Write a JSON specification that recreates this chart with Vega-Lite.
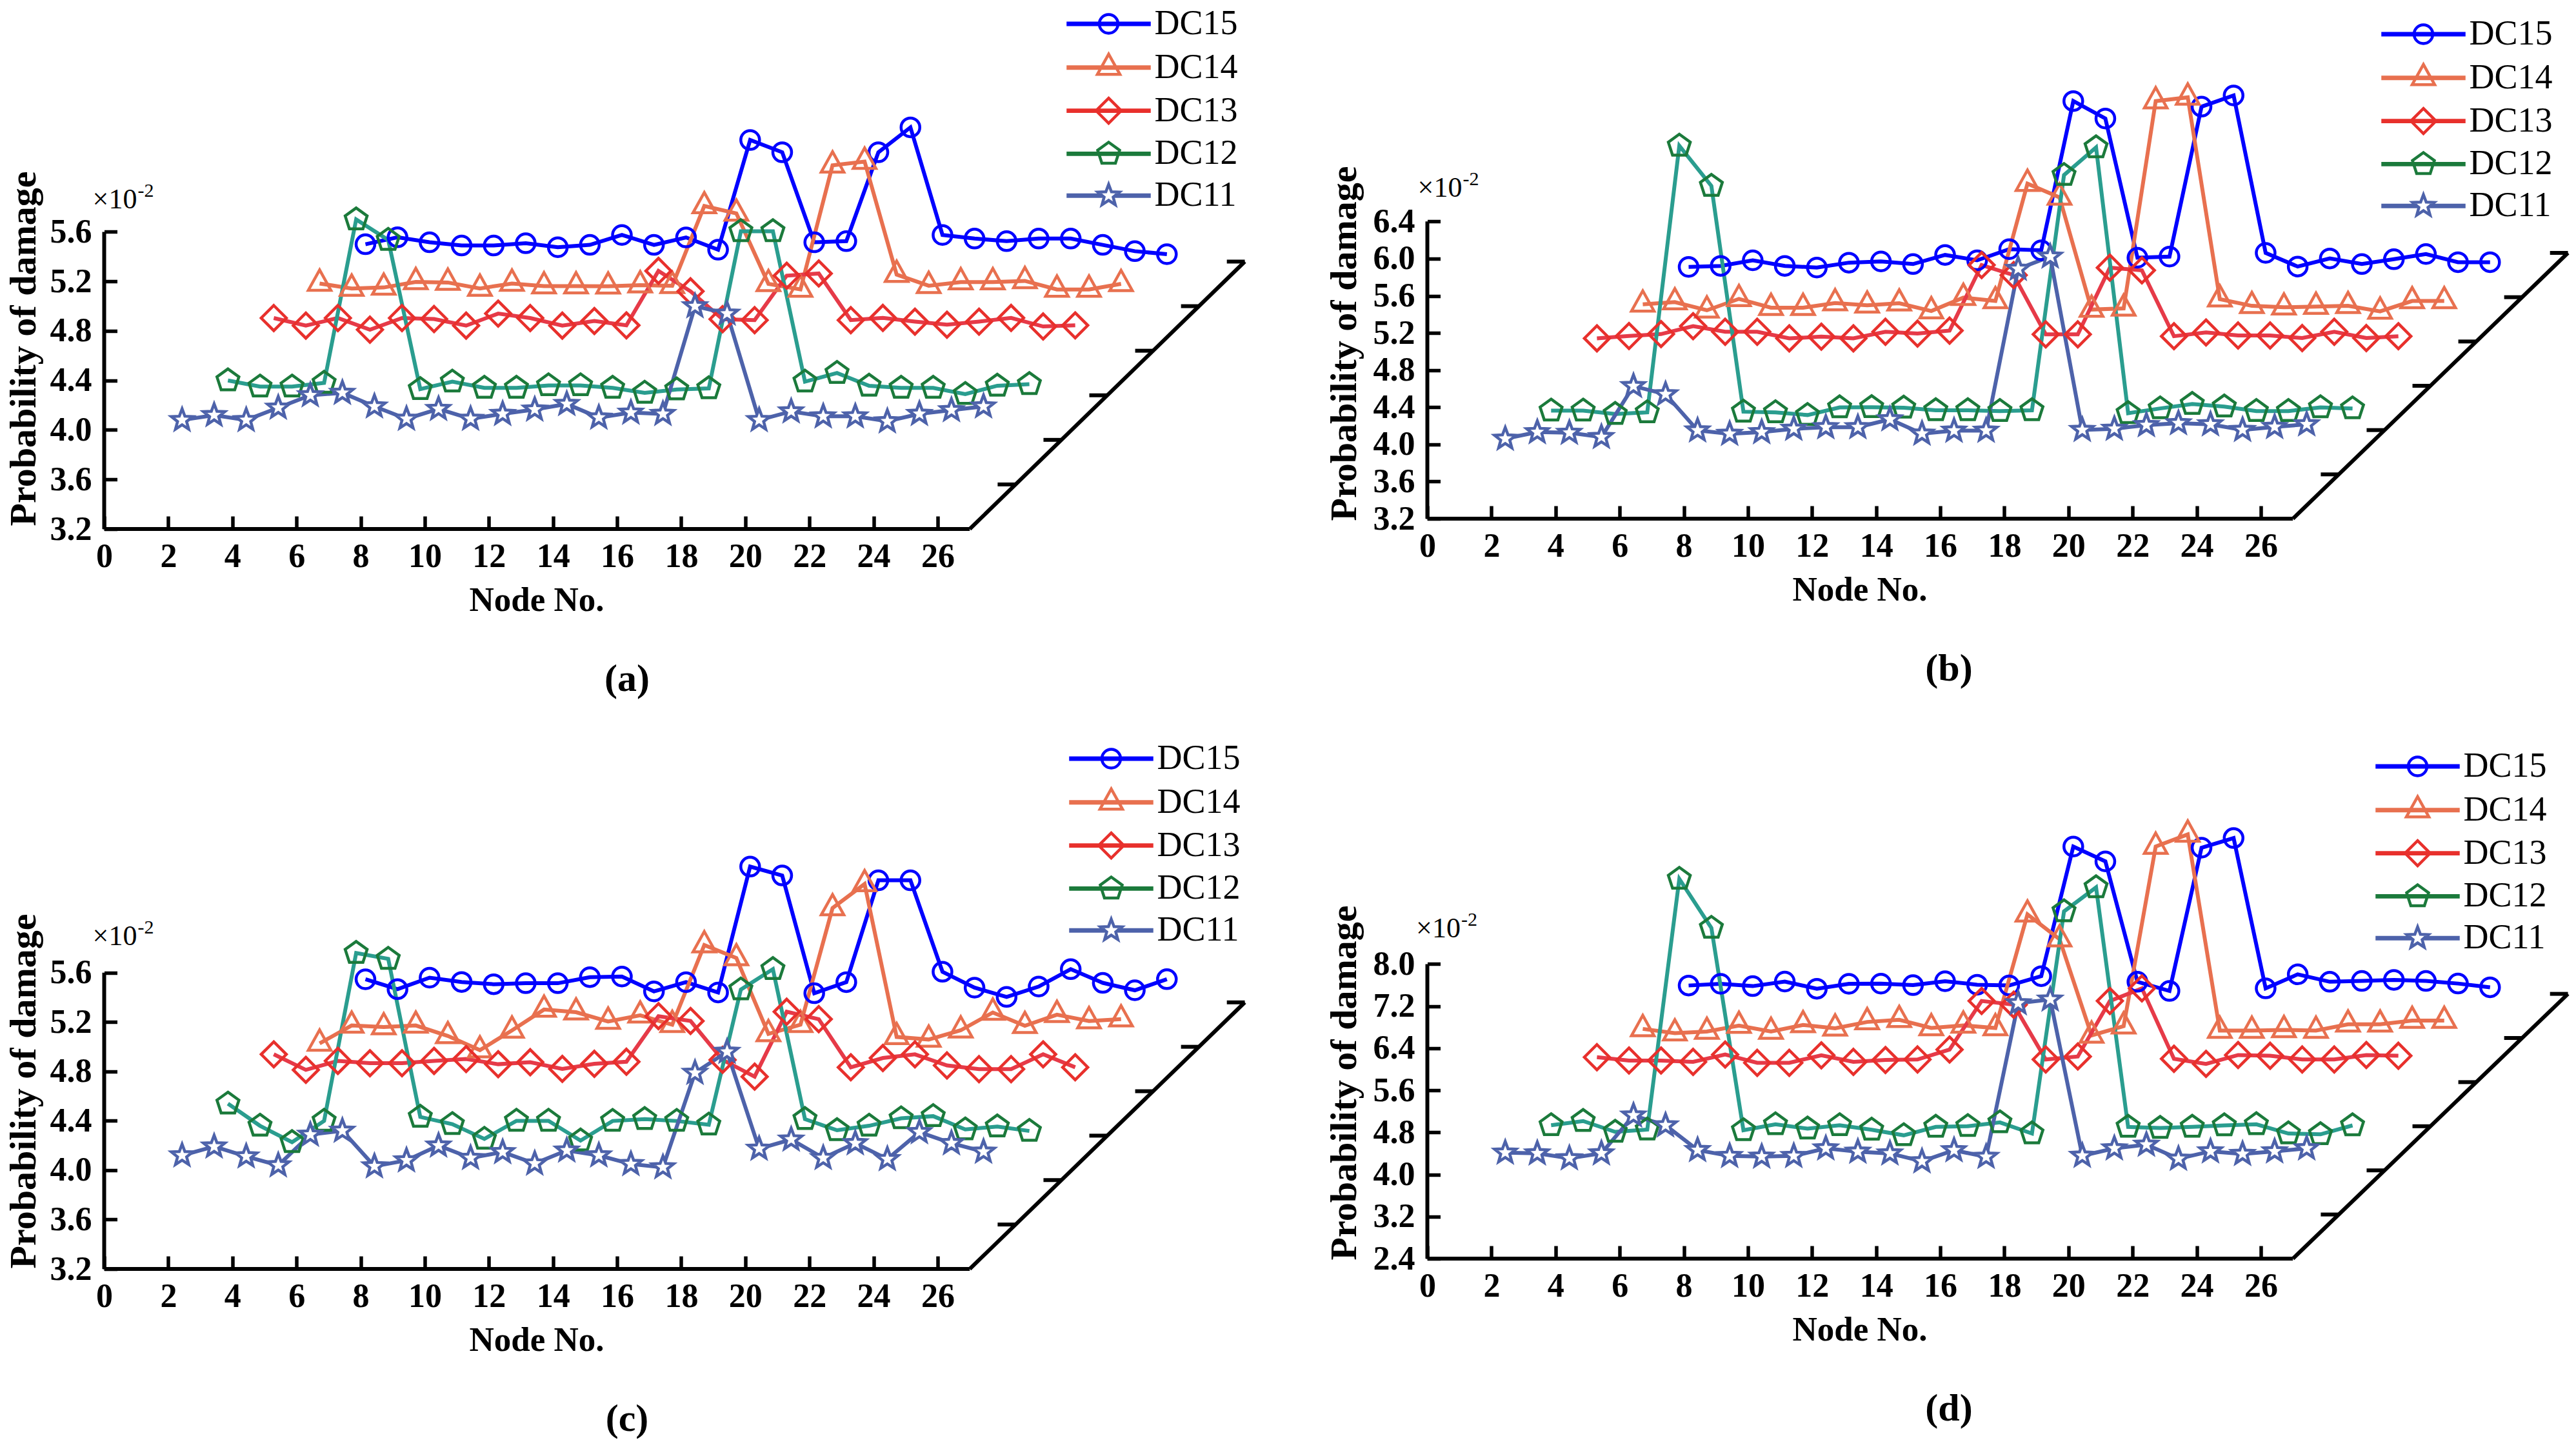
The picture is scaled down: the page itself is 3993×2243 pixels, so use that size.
{
  "$schema": "https://vega.github.io/schema/vega-lite/v6.json",
  "background": "white",
  "padding": {"left": 8.5, "top": 10, "right": 0, "bottom": 0},
  "datasets": {
    "a": [
      {"s":"DC15","x":8.15,"y":5.5},{"s":"DC15","x":9.15,"y":5.556},{"s":"DC15","x":10.15,"y":5.516},{"s":"DC15","x":11.15,"y":5.49},{"s":"DC15","x":12.15,"y":5.49},{"s":"DC15","x":13.15,"y":5.508},{"s":"DC15","x":14.15,"y":5.476},{"s":"DC15","x":15.15,"y":5.495},{"s":"DC15","x":16.15,"y":5.575},{"s":"DC15","x":17.15,"y":5.495},{"s":"DC15","x":18.15,"y":5.555},{"s":"DC15","x":19.15,"y":5.456},{"s":"DC15","x":20.15,"y":6.342},{"s":"DC15","x":21.15,"y":6.243},{"s":"DC15","x":22.15,"y":5.516},{"s":"DC15","x":23.15,"y":5.525},{"s":"DC15","x":24.15,"y":6.243},{"s":"DC15","x":25.15,"y":6.444},{"s":"DC15","x":26.15,"y":5.575},{"s":"DC15","x":27.15,"y":5.546},{"s":"DC15","x":28.15,"y":5.525},{"s":"DC15","x":29.15,"y":5.546},{"s":"DC15","x":30.15,"y":5.546},{"s":"DC15","x":31.15,"y":5.495},{"s":"DC15","x":32.15,"y":5.444},{"s":"DC15","x":33.15,"y":5.42},
      {"s":"DC14","x":6.72,"y":5.183},{"s":"DC14","x":7.72,"y":5.143},{"s":"DC14","x":8.72,"y":5.151},{"s":"DC14","x":9.72,"y":5.196},{"s":"DC14","x":10.72,"y":5.191},{"s":"DC14","x":11.72,"y":5.143},{"s":"DC14","x":12.72,"y":5.183},{"s":"DC14","x":13.72,"y":5.162},{"s":"DC14","x":14.72,"y":5.162},{"s":"DC14","x":15.72,"y":5.16},{"s":"DC14","x":16.72,"y":5.17},{"s":"DC14","x":17.72,"y":5.165},{"s":"DC14","x":18.72,"y":5.809},{"s":"DC14","x":19.72,"y":5.749},{"s":"DC14","x":20.72,"y":5.18},{"s":"DC14","x":21.72,"y":5.135},{"s":"DC14","x":22.72,"y":6.138},{"s":"DC14","x":23.72,"y":6.168},{"s":"DC14","x":24.72,"y":5.255},{"s":"DC14","x":25.72,"y":5.165},{"s":"DC14","x":26.72,"y":5.195},{"s":"DC14","x":27.72,"y":5.195},{"s":"DC14","x":28.72,"y":5.204},{"s":"DC14","x":29.72,"y":5.135},{"s":"DC14","x":30.72,"y":5.135},{"s":"DC14","x":31.72,"y":5.18},
      {"s":"DC13","x":5.29,"y":4.904},{"s":"DC13","x":6.29,"y":4.843},{"s":"DC13","x":7.29,"y":4.904},{"s":"DC13","x":8.29,"y":4.81},{"s":"DC13","x":9.29,"y":4.904},{"s":"DC13","x":10.29,"y":4.896},{"s":"DC13","x":11.29,"y":4.843},{"s":"DC13","x":12.29,"y":4.94},{"s":"DC13","x":13.29,"y":4.904},{"s":"DC13","x":14.29,"y":4.843},{"s":"DC13","x":15.29,"y":4.88},{"s":"DC13","x":16.29,"y":4.845},{"s":"DC13","x":17.29,"y":5.285},{"s":"DC13","x":18.29,"y":5.12},{"s":"DC13","x":19.29,"y":4.895},{"s":"DC13","x":20.29,"y":4.887},{"s":"DC13","x":21.29,"y":5.246},{"s":"DC13","x":22.29,"y":5.264},{"s":"DC13","x":23.29,"y":4.887},{"s":"DC13","x":24.29,"y":4.905},{"s":"DC13","x":25.29,"y":4.875},{"s":"DC13","x":26.29,"y":4.85},{"s":"DC13","x":27.29,"y":4.875},{"s":"DC13","x":28.29,"y":4.905},{"s":"DC13","x":29.29,"y":4.836},{"s":"DC13","x":30.29,"y":4.845},
      {"s":"DC12","x":3.86,"y":4.4},{"s":"DC12","x":4.86,"y":4.35},{"s":"DC12","x":5.86,"y":4.35},{"s":"DC12","x":6.86,"y":4.38},{"s":"DC12","x":7.86,"y":5.7},{"s":"DC12","x":8.86,"y":5.535},{"s":"DC12","x":9.86,"y":4.33},{"s":"DC12","x":10.86,"y":4.39},{"s":"DC12","x":11.86,"y":4.34},{"s":"DC12","x":12.86,"y":4.34},{"s":"DC12","x":13.86,"y":4.36},{"s":"DC12","x":14.86,"y":4.36},{"s":"DC12","x":15.86,"y":4.34},{"s":"DC12","x":16.86,"y":4.3},{"s":"DC12","x":17.86,"y":4.327},{"s":"DC12","x":18.86,"y":4.336},{"s":"DC12","x":19.86,"y":5.605},{"s":"DC12","x":20.86,"y":5.605},{"s":"DC12","x":21.86,"y":4.39},{"s":"DC12","x":22.86,"y":4.46},{"s":"DC12","x":23.86,"y":4.357},{"s":"DC12","x":24.86,"y":4.34},{"s":"DC12","x":25.86,"y":4.34},{"s":"DC12","x":26.86,"y":4.29},{"s":"DC12","x":27.86,"y":4.357},{"s":"DC12","x":28.86,"y":4.37},
      {"s":"DC11","x":2.43,"y":4.08},{"s":"DC11","x":3.43,"y":4.12},{"s":"DC11","x":4.43,"y":4.08},{"s":"DC11","x":5.43,"y":4.18},{"s":"DC11","x":6.43,"y":4.28},{"s":"DC11","x":7.43,"y":4.3},{"s":"DC11","x":8.43,"y":4.19},{"s":"DC11","x":9.43,"y":4.09},{"s":"DC11","x":10.43,"y":4.17},{"s":"DC11","x":11.43,"y":4.09},{"s":"DC11","x":12.43,"y":4.13},{"s":"DC11","x":13.43,"y":4.165},{"s":"DC11","x":14.43,"y":4.21},{"s":"DC11","x":15.43,"y":4.1},{"s":"DC11","x":16.43,"y":4.14},{"s":"DC11","x":17.43,"y":4.13},{"s":"DC11","x":18.43,"y":5.0},{"s":"DC11","x":19.43,"y":4.94},{"s":"DC11","x":20.43,"y":4.08},{"s":"DC11","x":21.43,"y":4.15},{"s":"DC11","x":22.43,"y":4.11},{"s":"DC11","x":23.43,"y":4.11},{"s":"DC11","x":24.43,"y":4.07},{"s":"DC11","x":25.43,"y":4.13},{"s":"DC11","x":26.43,"y":4.16},{"s":"DC11","x":27.43,"y":4.19}
    ],
    "b": [
      {"s":"DC15","x":8.15,"y":5.911},{"s":"DC15","x":9.15,"y":5.922},{"s":"DC15","x":10.15,"y":5.982},{"s":"DC15","x":11.15,"y":5.922},{"s":"DC15","x":12.15,"y":5.904},{"s":"DC15","x":13.15,"y":5.957},{"s":"DC15","x":14.15,"y":5.97},{"s":"DC15","x":15.15,"y":5.942},{"s":"DC15","x":16.15,"y":6.04},{"s":"DC15","x":17.15,"y":5.982},{"s":"DC15","x":18.15,"y":6.102},{"s":"DC15","x":19.15,"y":6.09},{"s":"DC15","x":20.15,"y":7.697},{"s":"DC15","x":21.15,"y":7.509},{"s":"DC15","x":22.15,"y":6.01},{"s":"DC15","x":23.15,"y":6.022},{"s":"DC15","x":24.15,"y":7.637},{"s":"DC15","x":25.15,"y":7.757},{"s":"DC15","x":26.15,"y":6.062},{"s":"DC15","x":27.15,"y":5.915},{"s":"DC15","x":28.15,"y":6.002},{"s":"DC15","x":29.15,"y":5.942},{"s":"DC15","x":30.15,"y":5.994},{"s":"DC15","x":31.15,"y":6.05},{"s":"DC15","x":32.15,"y":5.962},{"s":"DC15","x":33.15,"y":5.962},
      {"s":"DC14","x":6.72,"y":5.508},{"s":"DC14","x":7.72,"y":5.532},{"s":"DC14","x":8.72,"y":5.444},{"s":"DC14","x":9.72,"y":5.567},{"s":"DC14","x":10.72,"y":5.472},{"s":"DC14","x":11.72,"y":5.472},{"s":"DC14","x":12.72,"y":5.522},{"s":"DC14","x":13.72,"y":5.497},{"s":"DC14","x":14.72,"y":5.52},{"s":"DC14","x":15.72,"y":5.436},{"s":"DC14","x":16.72,"y":5.58},{"s":"DC14","x":17.72,"y":5.544},{"s":"DC14","x":18.72,"y":6.808},{"s":"DC14","x":19.72,"y":6.66},{"s":"DC14","x":20.72,"y":5.452},{"s":"DC14","x":21.72,"y":5.464},{"s":"DC14","x":22.72,"y":7.697},{"s":"DC14","x":23.72,"y":7.737},{"s":"DC14","x":24.72,"y":5.564},{"s":"DC14","x":25.72,"y":5.492},{"s":"DC14","x":26.72,"y":5.476},{"s":"DC14","x":27.72,"y":5.484},{"s":"DC14","x":28.72,"y":5.492},{"s":"DC14","x":29.72,"y":5.432},{"s":"DC14","x":30.72,"y":5.544},{"s":"DC14","x":31.72,"y":5.544},
      {"s":"DC13","x":5.29,"y":5.142},{"s":"DC13","x":6.29,"y":5.167},{"s":"DC13","x":7.29,"y":5.188},{"s":"DC13","x":8.29,"y":5.273},{"s":"DC13","x":9.29,"y":5.213},{"s":"DC13","x":10.29,"y":5.213},{"s":"DC13","x":11.29,"y":5.142},{"s":"DC13","x":12.29,"y":5.16},{"s":"DC13","x":13.29,"y":5.142},{"s":"DC13","x":14.29,"y":5.213},{"s":"DC13","x":15.29,"y":5.193},{"s":"DC13","x":16.29,"y":5.225},{"s":"DC13","x":17.29,"y":5.931},{"s":"DC13","x":18.29,"y":5.823},{"s":"DC13","x":19.29,"y":5.185},{"s":"DC13","x":20.29,"y":5.185},{"s":"DC13","x":21.29,"y":5.903},{"s":"DC13","x":22.29,"y":5.874},{"s":"DC13","x":23.29,"y":5.165},{"s":"DC13","x":24.29,"y":5.205},{"s":"DC13","x":25.29,"y":5.173},{"s":"DC13","x":26.29,"y":5.173},{"s":"DC13","x":27.29,"y":5.145},{"s":"DC13","x":28.29,"y":5.213},{"s":"DC13","x":29.29,"y":5.145},{"s":"DC13","x":30.29,"y":5.165},
      {"s":"DC12","x":3.86,"y":4.363},{"s":"DC12","x":4.86,"y":4.363},{"s":"DC12","x":5.86,"y":4.327},{"s":"DC12","x":6.86,"y":4.345},{"s":"DC12","x":7.86,"y":7.216},{"s":"DC12","x":8.86,"y":6.783},{"s":"DC12","x":9.86,"y":4.352},{"s":"DC12","x":10.86,"y":4.345},{"s":"DC12","x":11.86,"y":4.316},{"s":"DC12","x":12.86,"y":4.398},{"s":"DC12","x":13.86,"y":4.4},{"s":"DC12","x":14.86,"y":4.395},{"s":"DC12","x":15.86,"y":4.367},{"s":"DC12","x":16.86,"y":4.367},{"s":"DC12","x":17.86,"y":4.359},{"s":"DC12","x":18.86,"y":4.367},{"s":"DC12","x":19.86,"y":6.9},{"s":"DC12","x":20.86,"y":7.198},{"s":"DC12","x":21.86,"y":4.336},{"s":"DC12","x":22.86,"y":4.387},{"s":"DC12","x":23.86,"y":4.435},{"s":"DC12","x":24.86,"y":4.407},{"s":"DC12","x":25.86,"y":4.359},{"s":"DC12","x":26.86,"y":4.359},{"s":"DC12","x":27.86,"y":4.399},{"s":"DC12","x":28.86,"y":4.387},
      {"s":"DC11","x":2.43,"y":4.061},{"s":"DC11","x":3.43,"y":4.132},{"s":"DC11","x":4.43,"y":4.125},{"s":"DC11","x":5.43,"y":4.079},{"s":"DC11","x":6.43,"y":4.628},{"s":"DC11","x":7.43,"y":4.54},{"s":"DC11","x":8.43,"y":4.15},{"s":"DC11","x":9.43,"y":4.114},{"s":"DC11","x":10.43,"y":4.132},{"s":"DC11","x":11.43,"y":4.168},{"s":"DC11","x":12.43,"y":4.185},{"s":"DC11","x":13.43,"y":4.185},{"s":"DC11","x":14.43,"y":4.27},{"s":"DC11","x":15.43,"y":4.116},{"s":"DC11","x":16.43,"y":4.148},{"s":"DC11","x":17.43,"y":4.148},{"s":"DC11","x":18.43,"y":5.89},{"s":"DC11","x":19.43,"y":6.022},{"s":"DC11","x":20.43,"y":4.156},{"s":"DC11","x":21.43,"y":4.168},{"s":"DC11","x":22.43,"y":4.208},{"s":"DC11","x":23.43,"y":4.228},{"s":"DC11","x":24.43,"y":4.216},{"s":"DC11","x":25.43,"y":4.156},{"s":"DC11","x":26.43,"y":4.188},{"s":"DC11","x":27.43,"y":4.216}
    ],
    "c": [
      {"s":"DC15","x":8.15,"y":5.547},{"s":"DC15","x":9.15,"y":5.467},{"s":"DC15","x":10.15,"y":5.56},{"s":"DC15","x":11.15,"y":5.525},{"s":"DC15","x":12.15,"y":5.507},{"s":"DC15","x":13.15,"y":5.515},{"s":"DC15","x":14.15,"y":5.515},{"s":"DC15","x":15.15,"y":5.564},{"s":"DC15","x":16.15,"y":5.569},{"s":"DC15","x":17.15,"y":5.449},{"s":"DC15","x":18.15,"y":5.524},{"s":"DC15","x":19.15,"y":5.44},{"s":"DC15","x":20.15,"y":6.46},{"s":"DC15","x":21.15,"y":6.388},{"s":"DC15","x":22.15,"y":5.434},{"s":"DC15","x":23.15,"y":5.524},{"s":"DC15","x":24.15,"y":6.349},{"s":"DC15","x":25.15,"y":6.349},{"s":"DC15","x":26.15,"y":5.608},{"s":"DC15","x":27.15,"y":5.479},{"s":"DC15","x":28.15,"y":5.404},{"s":"DC15","x":29.15,"y":5.488},{"s":"DC15","x":30.15,"y":5.629},{"s":"DC15","x":31.15,"y":5.518},{"s":"DC15","x":32.15,"y":5.458},{"s":"DC15","x":33.15,"y":5.548},
      {"s":"DC14","x":6.72,"y":5.027},{"s":"DC14","x":7.72,"y":5.173},{"s":"DC14","x":8.72,"y":5.16},{"s":"DC14","x":9.72,"y":5.173},{"s":"DC14","x":10.72,"y":5.088},{"s":"DC14","x":11.72,"y":4.973},{"s":"DC14","x":12.72,"y":5.133},{"s":"DC14","x":13.72,"y":5.302},{"s":"DC14","x":14.72,"y":5.28},{"s":"DC14","x":15.72,"y":5.205},{"s":"DC14","x":16.72,"y":5.255},{"s":"DC14","x":17.72,"y":5.179},{"s":"DC14","x":18.72,"y":5.824},{"s":"DC14","x":19.72,"y":5.719},{"s":"DC14","x":20.72,"y":5.104},{"s":"DC14","x":21.72,"y":5.179},{"s":"DC14","x":22.72,"y":6.124},{"s":"DC14","x":23.72,"y":6.319},{"s":"DC14","x":24.72,"y":5.08},{"s":"DC14","x":25.72,"y":5.059},{"s":"DC14","x":26.72,"y":5.134},{"s":"DC14","x":27.72,"y":5.278},{"s":"DC14","x":28.72,"y":5.17},{"s":"DC14","x":29.72,"y":5.26},{"s":"DC14","x":30.72,"y":5.209},{"s":"DC14","x":31.72,"y":5.224},
      {"s":"DC13","x":5.29,"y":4.939},{"s":"DC13","x":6.29,"y":4.813},{"s":"DC13","x":7.29,"y":4.886},{"s":"DC13","x":8.29,"y":4.867},{"s":"DC13","x":9.29,"y":4.867},{"s":"DC13","x":10.29,"y":4.886},{"s":"DC13","x":11.29,"y":4.901},{"s":"DC13","x":12.29,"y":4.859},{"s":"DC13","x":13.29,"y":4.875},{"s":"DC13","x":14.29,"y":4.821},{"s":"DC13","x":15.29,"y":4.862},{"s":"DC13","x":16.29,"y":4.879},{"s":"DC13","x":17.29,"y":5.248},{"s":"DC13","x":18.29,"y":5.209},{"s":"DC13","x":19.29,"y":4.894},{"s":"DC13","x":20.29,"y":4.758},{"s":"DC13","x":21.29,"y":5.284},{"s":"DC13","x":22.29,"y":5.224},{"s":"DC13","x":23.29,"y":4.834},{"s":"DC13","x":24.29,"y":4.909},{"s":"DC13","x":25.29,"y":4.939},{"s":"DC13","x":26.29,"y":4.849},{"s":"DC13","x":27.29,"y":4.819},{"s":"DC13","x":28.29,"y":4.819},{"s":"DC13","x":29.29,"y":4.939},{"s":"DC13","x":30.29,"y":4.834},
      {"s":"DC12","x":3.86,"y":4.539},{"s":"DC12","x":4.86,"y":4.36},{"s":"DC12","x":5.86,"y":4.227},{"s":"DC12","x":6.86,"y":4.4},{"s":"DC12","x":7.86,"y":5.76},{"s":"DC12","x":8.86,"y":5.712},{"s":"DC12","x":9.86,"y":4.432},{"s":"DC12","x":10.86,"y":4.373},{"s":"DC12","x":11.86,"y":4.254},{"s":"DC12","x":12.86,"y":4.4},{"s":"DC12","x":13.86,"y":4.4},{"s":"DC12","x":14.86,"y":4.24},{"s":"DC12","x":15.86,"y":4.399},{"s":"DC12","x":16.86,"y":4.414},{"s":"DC12","x":17.86,"y":4.399},{"s":"DC12","x":18.86,"y":4.369},{"s":"DC12","x":19.86,"y":5.464},{"s":"DC12","x":20.86,"y":5.629},{"s":"DC12","x":21.86,"y":4.414},{"s":"DC12","x":22.86,"y":4.324},{"s":"DC12","x":23.86,"y":4.36},{"s":"DC12","x":24.86,"y":4.42},{"s":"DC12","x":25.86,"y":4.438},{"s":"DC12","x":26.86,"y":4.33},{"s":"DC12","x":27.86,"y":4.354},{"s":"DC12","x":28.86,"y":4.318},
      {"s":"DC11","x":2.43,"y":4.12},{"s":"DC11","x":3.43,"y":4.192},{"s":"DC11","x":4.43,"y":4.112},{"s":"DC11","x":5.43,"y":4.04},{"s":"DC11","x":6.43,"y":4.288},{"s":"DC11","x":7.43,"y":4.32},{"s":"DC11","x":8.43,"y":4.032},{"s":"DC11","x":9.43,"y":4.08},{"s":"DC11","x":10.43,"y":4.2},{"s":"DC11","x":11.43,"y":4.099},{"s":"DC11","x":12.43,"y":4.147},{"s":"DC11","x":13.43,"y":4.054},{"s":"DC11","x":14.43,"y":4.16},{"s":"DC11","x":15.43,"y":4.12},{"s":"DC11","x":16.43,"y":4.05},{"s":"DC11","x":17.43,"y":4.024},{"s":"DC11","x":18.43,"y":4.789},{"s":"DC11","x":19.43,"y":4.96},{"s":"DC11","x":20.43,"y":4.174},{"s":"DC11","x":21.43,"y":4.249},{"s":"DC11","x":22.43,"y":4.099},{"s":"DC11","x":23.43,"y":4.219},{"s":"DC11","x":24.43,"y":4.09},{"s":"DC11","x":25.43,"y":4.309},{"s":"DC11","x":26.43,"y":4.219},{"s":"DC11","x":27.43,"y":4.15}
    ],
    "d": [
      {"s":"DC15","x":8.15,"y":7.593},{"s":"DC15","x":9.15,"y":7.625},{"s":"DC15","x":10.15,"y":7.581},{"s":"DC15","x":11.15,"y":7.668},{"s":"DC15","x":12.15,"y":7.531},{"s":"DC15","x":13.15,"y":7.625},{"s":"DC15","x":14.15,"y":7.628},{"s":"DC15","x":15.15,"y":7.6},{"s":"DC15","x":16.15,"y":7.674},{"s":"DC15","x":17.15,"y":7.608},{"s":"DC15","x":18.15,"y":7.594},{"s":"DC15","x":19.15,"y":7.77},{"s":"DC15","x":20.15,"y":10.235},{"s":"DC15","x":21.15,"y":9.953},{"s":"DC15","x":22.15,"y":7.664},{"s":"DC15","x":23.15,"y":7.489},{"s":"DC15","x":24.15,"y":10.213},{"s":"DC15","x":25.15,"y":10.396},{"s":"DC15","x":26.15,"y":7.538},{"s":"DC15","x":27.15,"y":7.805},{"s":"DC15","x":28.15,"y":7.664},{"s":"DC15","x":29.15,"y":7.679},{"s":"DC15","x":30.15,"y":7.7},{"s":"DC15","x":31.15,"y":7.679},{"s":"DC15","x":32.15,"y":7.63},{"s":"DC15","x":33.15,"y":7.559},
      {"s":"DC14","x":6.72,"y":6.768},{"s":"DC14","x":7.72,"y":6.686},{"s":"DC14","x":8.72,"y":6.717},{"s":"DC14","x":9.72,"y":6.83},{"s":"DC14","x":10.72,"y":6.717},{"s":"DC14","x":11.72,"y":6.843},{"s":"DC14","x":12.72,"y":6.78},{"s":"DC14","x":13.72,"y":6.9},{"s":"DC14","x":14.72,"y":6.94},{"s":"DC14","x":15.72,"y":6.785},{"s":"DC14","x":16.72,"y":6.834},{"s":"DC14","x":17.72,"y":6.785},{"s":"DC14","x":18.72,"y":8.946},{"s":"DC14","x":19.72,"y":8.474},{"s":"DC14","x":20.72,"y":6.644},{"s":"DC14","x":21.72,"y":6.82},{"s":"DC14","x":22.72,"y":10.235},{"s":"DC14","x":23.72,"y":10.466},{"s":"DC14","x":24.72,"y":6.736},{"s":"DC14","x":25.72,"y":6.736},{"s":"DC14","x":26.72,"y":6.749},{"s":"DC14","x":27.72,"y":6.736},{"s":"DC14","x":28.72,"y":6.855},{"s":"DC14","x":29.72,"y":6.855},{"s":"DC14","x":30.72,"y":6.925},{"s":"DC14","x":31.72,"y":6.925},
      {"s":"DC13","x":5.29,"y":6.23},{"s":"DC13","x":6.29,"y":6.167},{"s":"DC13","x":7.29,"y":6.167},{"s":"DC13","x":8.29,"y":6.141},{"s":"DC13","x":9.29,"y":6.28},{"s":"DC13","x":10.29,"y":6.123},{"s":"DC13","x":11.29,"y":6.123},{"s":"DC13","x":12.29,"y":6.266},{"s":"DC13","x":13.29,"y":6.141},{"s":"DC13","x":14.29,"y":6.177},{"s":"DC13","x":15.29,"y":6.187},{"s":"DC13","x":16.29,"y":6.375},{"s":"DC13","x":17.29,"y":7.299},{"s":"DC13","x":18.29,"y":7.228},{"s":"DC13","x":19.29,"y":6.187},{"s":"DC13","x":20.29,"y":6.243},{"s":"DC13","x":21.29,"y":7.299},{"s":"DC13","x":22.29,"y":7.538},{"s":"DC13","x":23.29,"y":6.2},{"s":"DC13","x":24.29,"y":6.102},{"s":"DC13","x":25.29,"y":6.271},{"s":"DC13","x":26.29,"y":6.257},{"s":"DC13","x":27.29,"y":6.187},{"s":"DC13","x":28.29,"y":6.187},{"s":"DC13","x":29.29,"y":6.271},{"s":"DC13","x":30.29,"y":6.257},
      {"s":"DC12","x":3.86,"y":4.935},{"s":"DC12","x":4.86,"y":5.016},{"s":"DC12","x":5.86,"y":4.81},{"s":"DC12","x":6.86,"y":4.853},{"s":"DC12","x":7.86,"y":9.62},{"s":"DC12","x":8.86,"y":8.688},{"s":"DC12","x":9.86,"y":4.84},{"s":"DC12","x":10.86,"y":4.953},{"s":"DC12","x":11.86,"y":4.872},{"s":"DC12","x":12.86,"y":4.935},{"s":"DC12","x":13.86,"y":4.851},{"s":"DC12","x":14.86,"y":4.745},{"s":"DC12","x":15.86,"y":4.905},{"s":"DC12","x":16.86,"y":4.919},{"s":"DC12","x":17.86,"y":4.99},{"s":"DC12","x":18.86,"y":4.779},{"s":"DC12","x":19.86,"y":9.002},{"s":"DC12","x":20.86,"y":9.459},{"s":"DC12","x":21.86,"y":4.905},{"s":"DC12","x":22.86,"y":4.884},{"s":"DC12","x":23.86,"y":4.905},{"s":"DC12","x":24.86,"y":4.933},{"s":"DC12","x":25.86,"y":4.954},{"s":"DC12","x":26.86,"y":4.779},{"s":"DC12","x":27.86,"y":4.764},{"s":"DC12","x":28.86,"y":4.933},
      {"s":"DC11","x":2.43,"y":4.415},{"s":"DC11","x":3.43,"y":4.402},{"s":"DC11","x":4.43,"y":4.308},{"s":"DC11","x":5.43,"y":4.402},{"s":"DC11","x":6.43,"y":5.122},{"s":"DC11","x":7.43,"y":4.935},{"s":"DC11","x":8.43,"y":4.465},{"s":"DC11","x":9.43,"y":4.352},{"s":"DC11","x":10.43,"y":4.34},{"s":"DC11","x":11.43,"y":4.352},{"s":"DC11","x":12.43,"y":4.497},{"s":"DC11","x":13.43,"y":4.434},{"s":"DC11","x":14.43,"y":4.4},{"s":"DC11","x":15.43,"y":4.25},{"s":"DC11","x":16.43,"y":4.461},{"s":"DC11","x":17.43,"y":4.335},{"s":"DC11","x":18.43,"y":7.256},{"s":"DC11","x":19.43,"y":7.327},{"s":"DC11","x":20.43,"y":4.356},{"s":"DC11","x":21.43,"y":4.497},{"s":"DC11","x":22.43,"y":4.567},{"s":"DC11","x":23.43,"y":4.299},{"s":"DC11","x":24.43,"y":4.44},{"s":"DC11","x":25.43,"y":4.391},{"s":"DC11","x":26.43,"y":4.44},{"s":"DC11","x":27.43,"y":4.497}
    ],
    "ax_a": [
      {"x":0,"y":3.2,"x2":27,"y2":3.2},{"x":0,"y":3.2,"x2":0,"y2":5.6},{"x":27,"y":3.2,"x2":35.58,"y2":5.36},
      {"x":27.87,"y":3.56,"x2":28.43,"y2":3.56},{"x":29.3,"y":3.92,"x2":29.86,"y2":3.92},{"x":30.73,"y":4.28,"x2":31.29,"y2":4.28},{"x":32.16,"y":4.64,"x2":32.72,"y2":4.64},{"x":33.59,"y":5.0,"x2":34.15,"y2":5.0},{"x":35.02,"y":5.36,"x2":35.58,"y2":5.36}
    ],
    "ax_b": [
      {"x":0,"y":3.2,"x2":27,"y2":3.2},{"x":0,"y":3.2,"x2":0,"y2":6.4},{"x":27,"y":3.2,"x2":35.58,"y2":6.062},
      {"x":27.87,"y":3.677,"x2":28.43,"y2":3.677},{"x":29.3,"y":4.154,"x2":29.86,"y2":4.154},{"x":30.73,"y":4.631,"x2":31.29,"y2":4.631},{"x":32.16,"y":5.108,"x2":32.72,"y2":5.108},{"x":33.59,"y":5.585,"x2":34.15,"y2":5.585},{"x":35.02,"y":6.062,"x2":35.58,"y2":6.062}
    ],
    "ax_c": [
      {"x":0,"y":3.2,"x2":27,"y2":3.2},{"x":0,"y":3.2,"x2":0,"y2":5.6},{"x":27,"y":3.2,"x2":35.58,"y2":5.36},
      {"x":27.87,"y":3.56,"x2":28.43,"y2":3.56},{"x":29.3,"y":3.92,"x2":29.86,"y2":3.92},{"x":30.73,"y":4.28,"x2":31.29,"y2":4.28},{"x":32.16,"y":4.64,"x2":32.72,"y2":4.64},{"x":33.59,"y":5.0,"x2":34.15,"y2":5.0},{"x":35.02,"y":5.36,"x2":35.58,"y2":5.36}
    ],
    "ax_d": [
      {"x":0,"y":2.4,"x2":27,"y2":2.4},{"x":0,"y":2.4,"x2":0,"y2":8.0},{"x":27,"y":2.4,"x2":35.58,"y2":7.434},
      {"x":27.87,"y":3.239,"x2":28.43,"y2":3.239},{"x":29.3,"y":4.078,"x2":29.86,"y2":4.078},{"x":30.73,"y":4.917,"x2":31.29,"y2":4.917},{"x":32.16,"y":5.756,"x2":32.72,"y2":5.756},{"x":33.59,"y":6.595,"x2":34.15,"y2":6.595},{"x":35.02,"y":7.434,"x2":35.58,"y2":7.434}
    ],
    "series": [{"s":"DC15"},{"s":"DC14"},{"s":"DC13"},{"s":"DC12"},{"s":"DC11"}]
  },
  "columns": 2,
  "spacing": {"row": 66, "column": 120},
  "concat": [
    {
      "width": 1774, "height": 806,
      "title": {"text": "(a)", "orient": "bottom", "anchor": "middle", "frame": "bounds", "offset": 67},
      "layer": [
        {"data": {"name": "ax_a"}, "mark": {"type": "rule", "color": "black", "strokeWidth": 6},
         "encoding": {"x": {"field": "x", "type": "quantitative", "title": "Node No.", "scale": {"domain": [0, 35.7], "nice": false, "zero": false}},
                      "y": {"field": "y", "type": "quantitative", "title": "Probability of damage", "scale": {"domain": [3.2, 7.4], "nice": false, "zero": false}},
                      "x2": {"field": "x2"}, "y2": {"field": "y2"}}},
        {"data": {"values": [{}]}, "mark": {"type": "text", "text": "×10", "align": "left", "baseline": "middle", "font": "Liberation Serif", "fontSize": 44},
         "encoding": {"x": {"datum": -0.36, "type": "quantitative", "title": "Node No."}, "y": {"datum": 5.86, "type": "quantitative", "title": "Probability of damage"}}},
        {"data": {"values": [{}]}, "mark": {"type": "text", "text": "-2", "align": "left", "baseline": "middle", "font": "Liberation Serif", "fontSize": 30, "dx": 70, "dy": -14},
         "encoding": {"x": {"datum": -0.36, "type": "quantitative", "title": "Node No."}, "y": {"datum": 5.86, "type": "quantitative", "title": "Probability of damage"}}},
        {"data": {"name": "a"}, "mark": {"type": "line", "strokeWidth": 6},
         "encoding": {"x": {"field": "x", "type": "quantitative", "title": "Node No.", "scale": {"domain": [0, 35.7], "nice": false, "zero": false},
                            "axis": {"values": [0,2,4,6,8,10,12,14,16,18,20,22,24,26], "format": "d", "titleX": 670, "titleY": 110, "titleAlign": "center", "titleBaseline": "middle", "labelPadding": 37}},
                      "y": {"field": "y", "type": "quantitative", "title": "Probability of damage", "scale": {"domain": [3.2, 7.4], "nice": false, "zero": false},
                            "axis": {"values": [3.2,3.6,4.0,4.4,4.8,5.2,5.6], "format": ".1f", "titleX": -124, "titleY": 526, "titleAlign": "center", "titleBaseline": "middle", "titleFontSize": 58, "labelPadding": 39.5}},
                      "color": {"field": "s", "type": "nominal", "scale": {"domain": ["DC15","DC14","DC13","DC12","DC11"], "range": ["#0000FF","#E8704F","#E63A48","#2A9D8F","#4D62AA"]}, "legend": null}}},
        {"data": {"name": "a"}, "mark": {"type": "point", "filled": true, "opacity": 1, "size": 1600, "strokeWidth": 4.5},
         "encoding": {"x": {"field": "x", "type": "quantitative", "title": "Node No."}, "y": {"field": "y", "type": "quantitative", "title": "Probability of damage"},
                      "shape": {"field": "s", "type": "nominal", "scale": {"domain": ["DC15","DC14","DC13","DC12","DC11"], "range": ["M0.725,0A0.725,0.725,0,1,1,-0.725,0A0.725,0.725,0,1,1,0.725,0Z","M0,-1.05L0.875,0.525L-0.875,0.525Z","M0,-0.975L0.975,0L0,0.975L-0.975,0Z","M0,-0.895L0.851,-0.277L0.526,0.724L-0.526,0.724L-0.851,-0.277Z","M0,-0.875L0.216,-0.297L0.832,-0.27L0.35,0.114L0.514,0.708L0,0.368L-0.514,0.708L-0.35,0.114L-0.832,-0.27L-0.216,-0.297Z"]}, "legend": null},
                      "stroke": {"field": "s", "type": "nominal", "scale": {"domain": ["DC15","DC14","DC13","DC12","DC11"], "range": ["#0000FF","#E8704F","#E8302C","#1B7A3B","#4D62AA"]}, "legend": null},
                      "fill": {"field": "s", "type": "nominal", "scale": {"domain": ["DC15","DC14","DC13","DC12","DC11"], "range": ["transparent","transparent","transparent","transparent","white"]}, "legend": null}}},
        {"data": {"name": "series"}, "mark": {"type": "point", "filled": true, "opacity": 0, "size": 1600, "strokeWidth": 4.5},
         "encoding": {
           "shape": {"field": "s", "type": "nominal", "scale": {"domain": ["DC15","DC14","DC13","DC12","DC11"], "range": ["M-3.15,-0.06H3.15V0.06H-3.15ZM0.725,0A0.725,0.725,0,1,1,-0.725,0A0.725,0.725,0,1,1,0.725,0Z","M-3.15,-0.06H3.15V0.06H-3.15ZM0,-1.05L0.875,0.525L-0.875,0.525Z","M-3.15,-0.06H3.15V0.06H-3.15ZM0,-0.975L0.975,0L0,0.975L-0.975,0Z","M-3.15,-0.06H3.15V0.06H-3.15ZM0,-0.895L0.851,-0.277L0.526,0.724L-0.526,0.724L-0.851,-0.277Z","M-3.15,-0.06H-0.6V0.06H-3.15ZM0.6,-0.06H3.15V0.06H0.6ZM0,-0.875L0.216,-0.297L0.832,-0.27L0.35,0.114L0.514,0.708L0,0.368L-0.514,0.708L-0.35,0.114L-0.832,-0.27L-0.216,-0.297Z"]},
                     "legend": {"orient": "none", "legendX": 1530, "legendY": -4, "title": null, "padding": 0, "rowPadding": 10.8, "labelOffset": 44, "symbolSize": 1600, "symbolStrokeWidth": 4.5, "symbolOpacity": 1, "labelFont": "Liberation Serif", "labelFontSize": 54, "labelColor": "black"}},
           "stroke": {"field": "s", "type": "nominal", "scale": {"domain": ["DC15","DC14","DC13","DC12","DC11"], "range": ["#0000FF","#E8704F","#E8302C","#1B7A3B","#4D62AA"]},
                     "legend": {"orient": "none", "legendX": 1530, "legendY": -4, "title": null, "padding": 0, "rowPadding": 10.8, "labelOffset": 44, "symbolSize": 1600, "symbolStrokeWidth": 4.5, "symbolOpacity": 1, "labelFont": "Liberation Serif", "labelFontSize": 54, "labelColor": "black"}},
           "fill": {"field": "s", "type": "nominal", "scale": {"domain": ["DC15","DC14","DC13","DC12","DC11"], "range": ["transparent","transparent","transparent","transparent","white"]},
                     "legend": {"orient": "none", "legendX": 1530, "legendY": -4, "title": null, "padding": 0, "rowPadding": 10.8, "labelOffset": 44, "symbolSize": 1600, "symbolStrokeWidth": 4.5, "symbolOpacity": 1, "labelFont": "Liberation Serif", "labelFontSize": 54, "labelColor": "black"}}}}
      ],
      "resolve": {"scale": {"shape": "independent", "stroke": "independent", "fill": "independent"}}
    },
    {
      "width": 1774, "height": 790,
      "title": {"text": "(b)", "orient": "bottom", "anchor": "middle", "frame": "bounds", "offset": 67},
      "layer": [
        {"data": {"name": "ax_b"}, "mark": {"type": "rule", "color": "black", "strokeWidth": 6},
         "encoding": {"x": {"field": "x", "type": "quantitative", "title": "Node No.", "scale": {"domain": [0, 35.7], "nice": false, "zero": false}},
                      "y": {"field": "y", "type": "quantitative", "title": "Probability of damage", "scale": {"domain": [3.2, 8.688], "nice": false, "zero": false}},
                      "x2": {"field": "x2"}, "y2": {"field": "y2"}}},
        {"data": {"values": [{}]}, "mark": {"type": "text", "text": "×10", "align": "left", "baseline": "middle", "font": "Liberation Serif", "fontSize": 44},
         "encoding": {"x": {"datum": -0.3, "type": "quantitative", "title": "Node No."}, "y": {"datum": 6.76, "type": "quantitative", "title": "Probability of damage"}}},
        {"data": {"values": [{}]}, "mark": {"type": "text", "text": "-2", "align": "left", "baseline": "middle", "font": "Liberation Serif", "fontSize": 30, "dx": 70, "dy": -14},
         "encoding": {"x": {"datum": -0.3, "type": "quantitative", "title": "Node No."}, "y": {"datum": 6.76, "type": "quantitative", "title": "Probability of damage"}}},
        {"data": {"name": "b"}, "mark": {"type": "line", "strokeWidth": 6},
         "encoding": {"x": {"field": "x", "type": "quantitative", "title": "Node No.", "scale": {"domain": [0, 35.7], "nice": false, "zero": false},
                            "axis": {"values": [0,2,4,6,8,10,12,14,16,18,20,22,24,26], "format": "d", "titleX": 670, "titleY": 110, "titleAlign": "center", "titleBaseline": "middle", "labelPadding": 37}},
                      "y": {"field": "y", "type": "quantitative", "title": "Probability of damage", "scale": {"domain": [3.2, 8.688], "nice": false, "zero": false},
                            "axis": {"values": [3.2,3.6,4.0,4.4,4.8,5.2,5.6,6.0,6.4], "format": ".1f", "titleX": -128, "titleY": 518, "titleAlign": "center", "titleBaseline": "middle", "titleFontSize": 58, "labelPadding": 39.5}},
                      "color": {"field": "s", "type": "nominal", "scale": {"domain": ["DC15","DC14","DC13","DC12","DC11"], "range": ["#0000FF","#E8704F","#E63A48","#2A9D8F","#4D62AA"]}, "legend": null}}},
        {"data": {"name": "b"}, "mark": {"type": "point", "filled": true, "opacity": 1, "size": 1600, "strokeWidth": 4.5},
         "encoding": {"x": {"field": "x", "type": "quantitative", "title": "Node No."}, "y": {"field": "y", "type": "quantitative", "title": "Probability of damage"},
                      "shape": {"field": "s", "type": "nominal", "scale": {"domain": ["DC15","DC14","DC13","DC12","DC11"], "range": ["M0.725,0A0.725,0.725,0,1,1,-0.725,0A0.725,0.725,0,1,1,0.725,0Z","M0,-1.05L0.875,0.525L-0.875,0.525Z","M0,-0.975L0.975,0L0,0.975L-0.975,0Z","M0,-0.895L0.851,-0.277L0.526,0.724L-0.526,0.724L-0.851,-0.277Z","M0,-0.875L0.216,-0.297L0.832,-0.27L0.35,0.114L0.514,0.708L0,0.368L-0.514,0.708L-0.35,0.114L-0.832,-0.27L-0.216,-0.297Z"]}, "legend": null},
                      "stroke": {"field": "s", "type": "nominal", "scale": {"domain": ["DC15","DC14","DC13","DC12","DC11"], "range": ["#0000FF","#E8704F","#E8302C","#1B7A3B","#4D62AA"]}, "legend": null},
                      "fill": {"field": "s", "type": "nominal", "scale": {"domain": ["DC15","DC14","DC13","DC12","DC11"], "range": ["transparent","transparent","transparent","transparent","white"]}, "legend": null}}},
        {"data": {"name": "series"}, "mark": {"type": "point", "filled": true, "opacity": 0, "size": 1600, "strokeWidth": 4.5},
         "encoding": {
           "shape": {"field": "s", "type": "nominal", "scale": {"domain": ["DC15","DC14","DC13","DC12","DC11"], "range": ["M-3.15,-0.06H3.15V0.06H-3.15ZM0.725,0A0.725,0.725,0,1,1,-0.725,0A0.725,0.725,0,1,1,0.725,0Z","M-3.15,-0.06H3.15V0.06H-3.15ZM0,-1.05L0.875,0.525L-0.875,0.525Z","M-3.15,-0.06H3.15V0.06H-3.15ZM0,-0.975L0.975,0L0,0.975L-0.975,0Z","M-3.15,-0.06H3.15V0.06H-3.15ZM0,-0.895L0.851,-0.277L0.526,0.724L-0.526,0.724L-0.851,-0.277Z","M-3.15,-0.06H-0.6V0.06H-3.15ZM0.6,-0.06H3.15V0.06H0.6ZM0,-0.875L0.216,-0.297L0.832,-0.27L0.35,0.114L0.514,0.708L0,0.368L-0.514,0.708L-0.35,0.114L-0.832,-0.27L-0.216,-0.297Z"]},
                     "legend": {"orient": "none", "legendX": 1517, "legendY": 12, "title": null, "padding": 0, "rowPadding": 10.8, "labelOffset": 44, "symbolSize": 1600, "symbolStrokeWidth": 4.5, "symbolOpacity": 1, "labelFont": "Liberation Serif", "labelFontSize": 54, "labelColor": "black"}},
           "stroke": {"field": "s", "type": "nominal", "scale": {"domain": ["DC15","DC14","DC13","DC12","DC11"], "range": ["#0000FF","#E8704F","#E8302C","#1B7A3B","#4D62AA"]},
                     "legend": {"orient": "none", "legendX": 1517, "legendY": 12, "title": null, "padding": 0, "rowPadding": 10.8, "labelOffset": 44, "symbolSize": 1600, "symbolStrokeWidth": 4.5, "symbolOpacity": 1, "labelFont": "Liberation Serif", "labelFontSize": 54, "labelColor": "black"}},
           "fill": {"field": "s", "type": "nominal", "scale": {"domain": ["DC15","DC14","DC13","DC12","DC11"], "range": ["transparent","transparent","transparent","transparent","white"]},
                     "legend": {"orient": "none", "legendX": 1517, "legendY": 12, "title": null, "padding": 0, "rowPadding": 10.8, "labelOffset": 44, "symbolSize": 1600, "symbolStrokeWidth": 4.5, "symbolOpacity": 1, "labelFont": "Liberation Serif", "labelFontSize": 54, "labelColor": "black"}}}}
      ],
      "resolve": {"scale": {"shape": "independent", "stroke": "independent", "fill": "independent"}}
    },
    {
      "width": 1774, "height": 806,
      "title": {"text": "(c)", "orient": "bottom", "anchor": "middle", "frame": "bounds", "offset": 67},
      "layer": [
        {"data": {"name": "ax_c"}, "mark": {"type": "rule", "color": "black", "strokeWidth": 6},
         "encoding": {"x": {"field": "x", "type": "quantitative", "title": "Node No.", "scale": {"domain": [0, 35.7], "nice": false, "zero": false}},
                      "y": {"field": "y", "type": "quantitative", "title": "Probability of damage", "scale": {"domain": [3.2, 7.413], "nice": false, "zero": false}},
                      "x2": {"field": "x2"}, "y2": {"field": "y2"}}},
        {"data": {"values": [{}]}, "mark": {"type": "text", "text": "×10", "align": "left", "baseline": "middle", "font": "Liberation Serif", "fontSize": 44},
         "encoding": {"x": {"datum": -0.36, "type": "quantitative", "title": "Node No."}, "y": {"datum": 5.89, "type": "quantitative", "title": "Probability of damage"}}},
        {"data": {"values": [{}]}, "mark": {"type": "text", "text": "-2", "align": "left", "baseline": "middle", "font": "Liberation Serif", "fontSize": 30, "dx": 70, "dy": -14},
         "encoding": {"x": {"datum": -0.36, "type": "quantitative", "title": "Node No."}, "y": {"datum": 5.89, "type": "quantitative", "title": "Probability of damage"}}},
        {"data": {"name": "c"}, "mark": {"type": "line", "strokeWidth": 6},
         "encoding": {"x": {"field": "x", "type": "quantitative", "title": "Node No.", "scale": {"domain": [0, 35.7], "nice": false, "zero": false},
                            "axis": {"values": [0,2,4,6,8,10,12,14,16,18,20,22,24,26], "format": "d", "titleX": 670, "titleY": 110, "titleAlign": "center", "titleBaseline": "middle", "labelPadding": 37}},
                      "y": {"field": "y", "type": "quantitative", "title": "Probability of damage", "scale": {"domain": [3.2, 7.413], "nice": false, "zero": false},
                            "axis": {"values": [3.2,3.6,4.0,4.4,4.8,5.2,5.6], "format": ".1f", "titleX": -124, "titleY": 530, "titleAlign": "center", "titleBaseline": "middle", "titleFontSize": 58, "labelPadding": 39.5}},
                      "color": {"field": "s", "type": "nominal", "scale": {"domain": ["DC15","DC14","DC13","DC12","DC11"], "range": ["#0000FF","#E8704F","#E63A48","#2A9D8F","#4D62AA"]}, "legend": null}}},
        {"data": {"name": "c"}, "mark": {"type": "point", "filled": true, "opacity": 1, "size": 1600, "strokeWidth": 4.5},
         "encoding": {"x": {"field": "x", "type": "quantitative", "title": "Node No."}, "y": {"field": "y", "type": "quantitative", "title": "Probability of damage"},
                      "shape": {"field": "s", "type": "nominal", "scale": {"domain": ["DC15","DC14","DC13","DC12","DC11"], "range": ["M0.725,0A0.725,0.725,0,1,1,-0.725,0A0.725,0.725,0,1,1,0.725,0Z","M0,-1.05L0.875,0.525L-0.875,0.525Z","M0,-0.975L0.975,0L0,0.975L-0.975,0Z","M0,-0.895L0.851,-0.277L0.526,0.724L-0.526,0.724L-0.851,-0.277Z","M0,-0.875L0.216,-0.297L0.832,-0.27L0.35,0.114L0.514,0.708L0,0.368L-0.514,0.708L-0.35,0.114L-0.832,-0.27L-0.216,-0.297Z"]}, "legend": null},
                      "stroke": {"field": "s", "type": "nominal", "scale": {"domain": ["DC15","DC14","DC13","DC12","DC11"], "range": ["#0000FF","#E8704F","#E8302C","#1B7A3B","#4D62AA"]}, "legend": null},
                      "fill": {"field": "s", "type": "nominal", "scale": {"domain": ["DC15","DC14","DC13","DC12","DC11"], "range": ["transparent","transparent","transparent","transparent","white"]}, "legend": null}}},
        {"data": {"name": "series"}, "mark": {"type": "point", "filled": true, "opacity": 0, "size": 1600, "strokeWidth": 4.5},
         "encoding": {
           "shape": {"field": "s", "type": "nominal", "scale": {"domain": ["DC15","DC14","DC13","DC12","DC11"], "range": ["M-3.15,-0.06H3.15V0.06H-3.15ZM0.725,0A0.725,0.725,0,1,1,-0.725,0A0.725,0.725,0,1,1,0.725,0Z","M-3.15,-0.06H3.15V0.06H-3.15ZM0,-1.05L0.875,0.525L-0.875,0.525Z","M-3.15,-0.06H3.15V0.06H-3.15ZM0,-0.975L0.975,0L0,0.975L-0.975,0Z","M-3.15,-0.06H3.15V0.06H-3.15ZM0,-0.895L0.851,-0.277L0.526,0.724L-0.526,0.724L-0.851,-0.277Z","M-3.15,-0.06H-0.6V0.06H-3.15ZM0.6,-0.06H3.15V0.06H0.6ZM0,-0.875L0.216,-0.297L0.832,-0.27L0.35,0.114L0.514,0.708L0,0.368L-0.514,0.708L-0.35,0.114L-0.832,-0.27L-0.216,-0.297Z"]},
                     "legend": {"orient": "none", "legendX": 1534, "legendY": -12, "title": null, "padding": 0, "rowPadding": 10.8, "labelOffset": 44, "symbolSize": 1600, "symbolStrokeWidth": 4.5, "symbolOpacity": 1, "labelFont": "Liberation Serif", "labelFontSize": 54, "labelColor": "black"}},
           "stroke": {"field": "s", "type": "nominal", "scale": {"domain": ["DC15","DC14","DC13","DC12","DC11"], "range": ["#0000FF","#E8704F","#E8302C","#1B7A3B","#4D62AA"]},
                     "legend": {"orient": "none", "legendX": 1534, "legendY": -12, "title": null, "padding": 0, "rowPadding": 10.8, "labelOffset": 44, "symbolSize": 1600, "symbolStrokeWidth": 4.5, "symbolOpacity": 1, "labelFont": "Liberation Serif", "labelFontSize": 54, "labelColor": "black"}},
           "fill": {"field": "s", "type": "nominal", "scale": {"domain": ["DC15","DC14","DC13","DC12","DC11"], "range": ["transparent","transparent","transparent","transparent","white"]},
                     "legend": {"orient": "none", "legendX": 1534, "legendY": -12, "title": null, "padding": 0, "rowPadding": 10.8, "labelOffset": 44, "symbolSize": 1600, "symbolStrokeWidth": 4.5, "symbolOpacity": 1, "labelFont": "Liberation Serif", "labelFontSize": 54, "labelColor": "black"}}}}
      ],
      "resolve": {"scale": {"shape": "independent", "stroke": "independent", "fill": "independent"}}
    },
    {
      "width": 1774, "height": 790,
      "title": {"text": "(d)", "orient": "bottom", "anchor": "middle", "frame": "bounds", "offset": 67},
      "layer": [
        {"data": {"name": "ax_d"}, "mark": {"type": "rule", "color": "black", "strokeWidth": 6},
         "encoding": {"x": {"field": "x", "type": "quantitative", "title": "Node No.", "scale": {"domain": [0, 35.7], "nice": false, "zero": false}},
                      "y": {"field": "y", "type": "quantitative", "title": "Probability of damage", "scale": {"domain": [2.4, 12.09], "nice": false, "zero": false}},
                      "x2": {"field": "x2"}, "y2": {"field": "y2"}}},
        {"data": {"values": [{}]}, "mark": {"type": "text", "text": "×10", "align": "left", "baseline": "middle", "font": "Liberation Serif", "fontSize": 44},
         "encoding": {"x": {"datum": -0.35, "type": "quantitative", "title": "Node No."}, "y": {"datum": 8.67, "type": "quantitative", "title": "Probability of damage"}}},
        {"data": {"values": [{}]}, "mark": {"type": "text", "text": "-2", "align": "left", "baseline": "middle", "font": "Liberation Serif", "fontSize": 30, "dx": 70, "dy": -14},
         "encoding": {"x": {"datum": -0.35, "type": "quantitative", "title": "Node No."}, "y": {"datum": 8.67, "type": "quantitative", "title": "Probability of damage"}}},
        {"data": {"name": "d"}, "mark": {"type": "line", "strokeWidth": 6},
         "encoding": {"x": {"field": "x", "type": "quantitative", "title": "Node No.", "scale": {"domain": [0, 35.7], "nice": false, "zero": false},
                            "axis": {"values": [0,2,4,6,8,10,12,14,16,18,20,22,24,26], "format": "d", "titleX": 670, "titleY": 110, "titleAlign": "center", "titleBaseline": "middle", "labelPadding": 37}},
                      "y": {"field": "y", "type": "quantitative", "title": "Probability of damage", "scale": {"domain": [2.4, 12.09], "nice": false, "zero": false},
                            "axis": {"values": [2.4,3.2,4.0,4.8,5.6,6.4,7.2,8.0], "format": ".1f", "titleX": -128, "titleY": 517, "titleAlign": "center", "titleBaseline": "middle", "titleFontSize": 58, "labelPadding": 39.5}},
                      "color": {"field": "s", "type": "nominal", "scale": {"domain": ["DC15","DC14","DC13","DC12","DC11"], "range": ["#0000FF","#E8704F","#E63A48","#2A9D8F","#4D62AA"]}, "legend": null}}},
        {"data": {"name": "d"}, "mark": {"type": "point", "filled": true, "opacity": 1, "size": 1600, "strokeWidth": 4.5},
         "encoding": {"x": {"field": "x", "type": "quantitative", "title": "Node No."}, "y": {"field": "y", "type": "quantitative", "title": "Probability of damage"},
                      "shape": {"field": "s", "type": "nominal", "scale": {"domain": ["DC15","DC14","DC13","DC12","DC11"], "range": ["M0.725,0A0.725,0.725,0,1,1,-0.725,0A0.725,0.725,0,1,1,0.725,0Z","M0,-1.05L0.875,0.525L-0.875,0.525Z","M0,-0.975L0.975,0L0,0.975L-0.975,0Z","M0,-0.895L0.851,-0.277L0.526,0.724L-0.526,0.724L-0.851,-0.277Z","M0,-0.875L0.216,-0.297L0.832,-0.27L0.35,0.114L0.514,0.708L0,0.368L-0.514,0.708L-0.35,0.114L-0.832,-0.27L-0.216,-0.297Z"]}, "legend": null},
                      "stroke": {"field": "s", "type": "nominal", "scale": {"domain": ["DC15","DC14","DC13","DC12","DC11"], "range": ["#0000FF","#E8704F","#E8302C","#1B7A3B","#4D62AA"]}, "legend": null},
                      "fill": {"field": "s", "type": "nominal", "scale": {"domain": ["DC15","DC14","DC13","DC12","DC11"], "range": ["transparent","transparent","transparent","transparent","white"]}, "legend": null}}},
        {"data": {"name": "series"}, "mark": {"type": "point", "filled": true, "opacity": 0, "size": 1600, "strokeWidth": 4.5},
         "encoding": {
           "shape": {"field": "s", "type": "nominal", "scale": {"domain": ["DC15","DC14","DC13","DC12","DC11"], "range": ["M-3.15,-0.06H3.15V0.06H-3.15ZM0.725,0A0.725,0.725,0,1,1,-0.725,0A0.725,0.725,0,1,1,0.725,0Z","M-3.15,-0.06H3.15V0.06H-3.15ZM0,-1.05L0.875,0.525L-0.875,0.525Z","M-3.15,-0.06H3.15V0.06H-3.15ZM0,-0.975L0.975,0L0,0.975L-0.975,0Z","M-3.15,-0.06H3.15V0.06H-3.15ZM0,-0.895L0.851,-0.277L0.526,0.724L-0.526,0.724L-0.851,-0.277Z","M-3.15,-0.06H-0.6V0.06H-3.15ZM0.6,-0.06H3.15V0.06H0.6ZM0,-0.875L0.216,-0.297L0.832,-0.27L0.35,0.114L0.514,0.708L0,0.368L-0.514,0.708L-0.35,0.114L-0.832,-0.27L-0.216,-0.297Z"]},
                     "legend": {"orient": "none", "legendX": 1508, "legendY": 0, "title": null, "padding": 0, "rowPadding": 10.8, "labelOffset": 44, "symbolSize": 1600, "symbolStrokeWidth": 4.5, "symbolOpacity": 1, "labelFont": "Liberation Serif", "labelFontSize": 54, "labelColor": "black"}},
           "stroke": {"field": "s", "type": "nominal", "scale": {"domain": ["DC15","DC14","DC13","DC12","DC11"], "range": ["#0000FF","#E8704F","#E8302C","#1B7A3B","#4D62AA"]},
                     "legend": {"orient": "none", "legendX": 1508, "legendY": 0, "title": null, "padding": 0, "rowPadding": 10.8, "labelOffset": 44, "symbolSize": 1600, "symbolStrokeWidth": 4.5, "symbolOpacity": 1, "labelFont": "Liberation Serif", "labelFontSize": 54, "labelColor": "black"}},
           "fill": {"field": "s", "type": "nominal", "scale": {"domain": ["DC15","DC14","DC13","DC12","DC11"], "range": ["transparent","transparent","transparent","transparent","white"]},
                     "legend": {"orient": "none", "legendX": 1508, "legendY": 0, "title": null, "padding": 0, "rowPadding": 10.8, "labelOffset": 44, "symbolSize": 1600, "symbolStrokeWidth": 4.5, "symbolOpacity": 1, "labelFont": "Liberation Serif", "labelFontSize": 54, "labelColor": "black"}}}}
      ],
      "resolve": {"scale": {"shape": "independent", "stroke": "independent", "fill": "independent"}}
    }
  ],
  "config": {
    "view": {"stroke": null},
    "font": "Liberation Serif",
    "axis": {"domain": false, "grid": false, "ticks": true, "tickSize": -20, "tickWidth": 5.5, "tickColor": "black",
             "labelFont": "Liberation Serif", "labelFontSize": 52, "labelFontWeight": "bold", "labelColor": "black", "labelFlush": false, "labelOverlap": false,
             "titleFont": "Liberation Serif", "titleFontSize": 53, "titleFontWeight": "bold", "titleColor": "black"},
    "legend": {"labelFont": "Liberation Serif", "labelFontSize": 54, "labelFontWeight": "normal", "labelColor": "black", "labelBaseline": "middle"},
    "title": {"font": "Liberation Serif", "fontSize": 60, "fontWeight": "bold", "color": "black"}
  }
}
